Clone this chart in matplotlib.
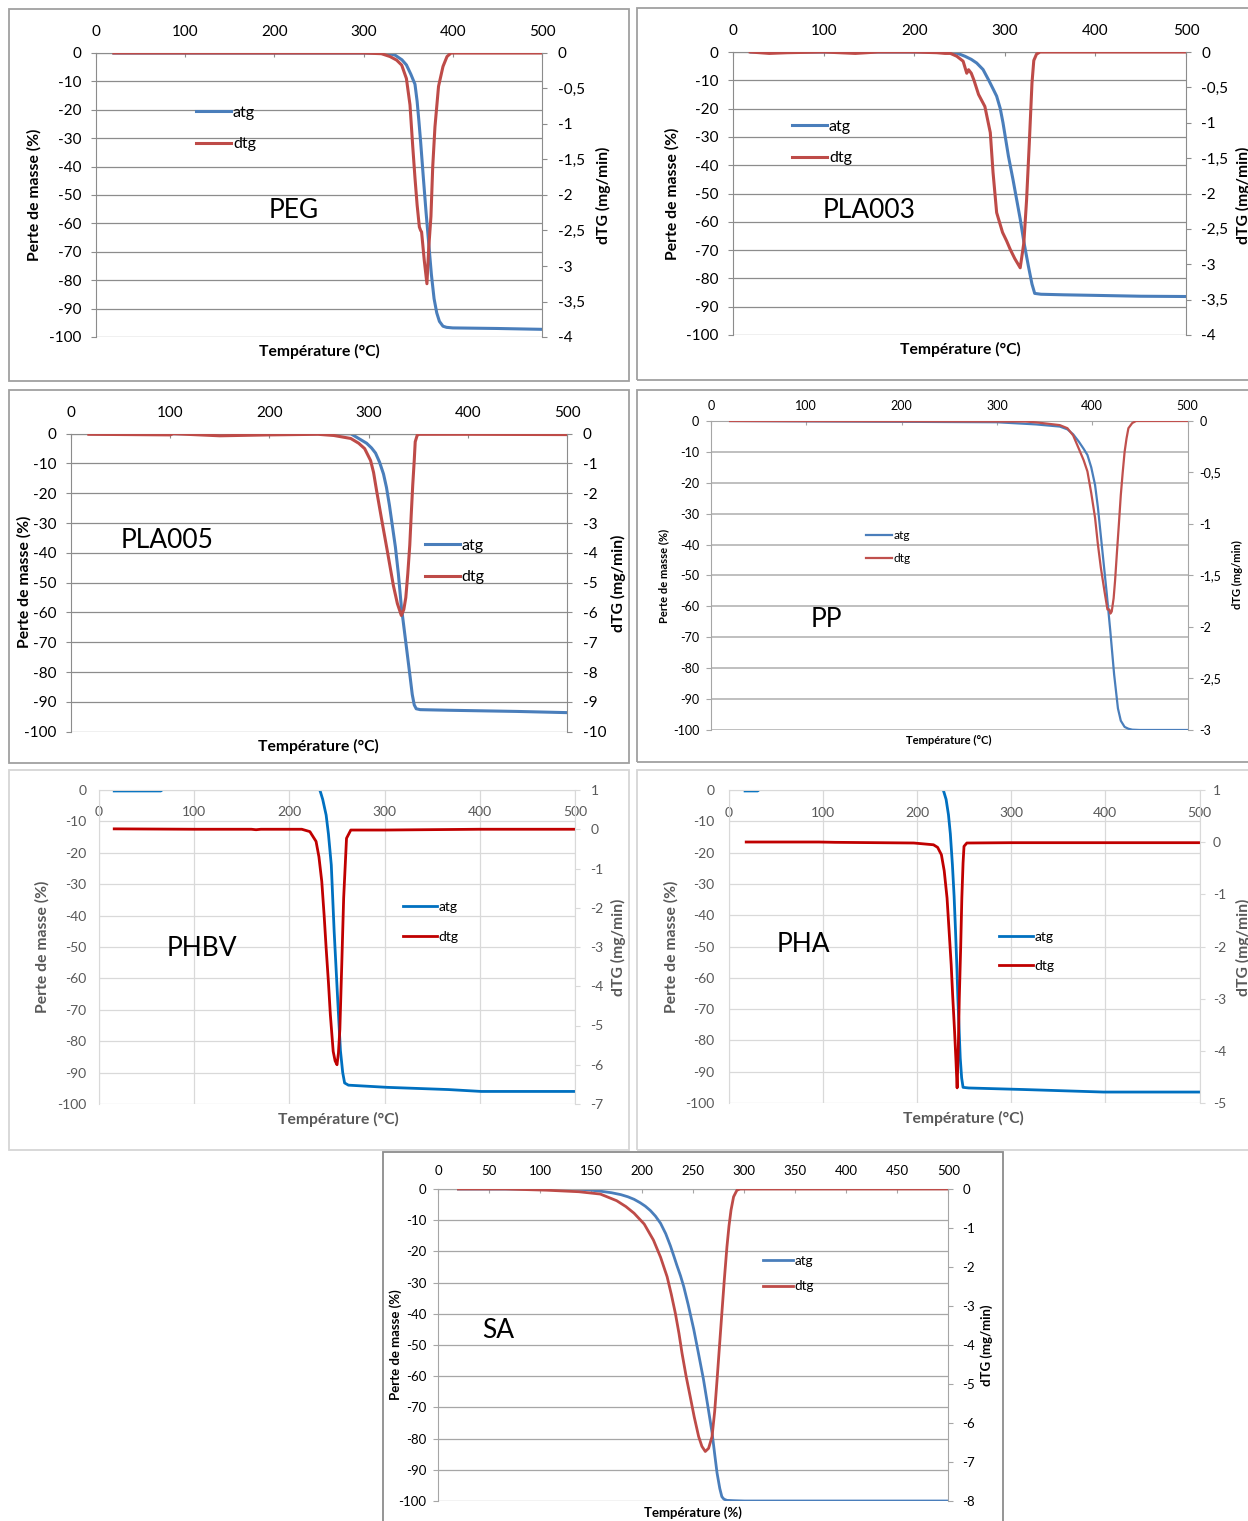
import matplotlib
matplotlib.use("Agg")
import matplotlib.pyplot as plt
from matplotlib.patches import Rectangle
from matplotlib.ticker import FuncFormatter, MultipleLocator

# ---- data (temperature in °C, atg in %, dtg in mg/min) ----
peg_ta = [20, 325, 335, 343, 348, 353, 357.6, 360, 362, 364, 367, 370, 373, 376, 379, 382, 385, 389, 393, 400, 450, 500]
peg_atg = [0, 0, -0.7, -2.4, -4.2, -7.5, -11, -17, -24, -31.5, -44, -56, -67, -78, -86.5, -91.5, -94.5, -96.2, -96.6, -96.8, -97.0, -97.3]
peg_td = [20, 300, 320, 329.6, 337, 342.7, 348, 352, 355, 357.6, 360, 362.5, 364, 365, 368, 371, 373, 375.5, 377.5, 380, 384, 389, 393.5, 398, 500]
peg_dtg = [0, 0, -0.01, -0.05, -0.1, -0.17, -0.36, -0.73, -1.3, -1.76, -2.14, -2.45, -2.5, -2.52, -2.92, -3.25, -2.75, -2.3, -1.6, -1.04, -0.47, -0.19, -0.05, 0, 0]

pla3_ta = [20, 239, 248, 256, 263, 269, 276, 282, 287, 291, 295, 298, 304, 309, 313, 317, 321, 326, 330, 333, 340, 365, 400, 450, 500]
pla3_atg = [0, 0, -0.5, -1.5, -2.6, -3.9, -6.2, -9.8, -13, -15.6, -20, -25, -36.8, -45, -52, -59, -67, -75.6, -82, -85.3, -85.6, -85.8, -86.0, -86.3, -86.4]
pla3_td = [19, 40, 60, 100, 135, 160, 200, 225, 234, 240, 247, 254, 258, 260, 263, 266, 271, 278, 284, 287, 291, 297.5, 302, 306, 311, 317, 321, 324, 327, 330, 332, 335, 339, 400, 500]
pla3_dtg = [0, -0.02, -0.01, 0, -0.02, 0, 0, -0.01, -0.02, -0.02, -0.06, -0.13, -0.3, -0.25, -0.3, -0.4, -0.6, -0.77, -1.14, -1.7, -2.27, -2.55, -2.67, -2.79, -2.92, -3.05, -2.7, -2.1, -1.3, -0.44, -0.12, -0.03, 0, 0, 0]

pla5_ta = [20, 282, 290, 298, 303, 307, 311, 315, 318, 321, 324, 327, 330, 333, 336, 339, 342, 344, 346, 348, 352, 380, 450, 500]
pla5_atg = [0, 0, -1.6, -3.2, -4.8, -6.5, -9.5, -13.5, -18, -24, -31, -38, -47, -58, -66, -74, -82, -87.5, -91, -92.3, -92.6, -92.8, -93.2, -93.6]
pla5_td = [18, 60, 100, 103, 150, 200, 249, 265, 282, 290, 296, 302, 305, 308, 313, 319, 325, 329, 333, 335.5, 337.5, 339.5, 341.5, 343, 344.5, 346, 347, 349, 351, 400, 500]
pla5_dtg = [-0.02, -0.03, -0.04, 0, -0.07, -0.04, -0.02, -0.06, -0.16, -0.32, -0.5, -0.9, -1.3, -1.9, -2.85, -3.96, -5.1, -5.7, -6.1, -5.9, -5.5, -4.7, -3.74, -2.7, -1.72, -0.9, -0.27, -0.05, -0.02, -0.02, -0.03]

pp_ta = [20, 300, 341, 366, 374, 380, 386, 391, 395, 399, 403, 406, 409, 412, 415, 419, 423, 427, 430, 434, 438, 442, 450, 500]
pp_atg = [0, -0.4, -1.1, -1.8, -2.7, -4.3, -6.7, -9, -11, -15, -20.7, -28, -37, -46, -55, -68, -82, -93, -97, -99, -99.6, -99.9, -100, -100]
pp_td = [20, 330, 341, 366, 374, 380, 386, 391, 395, 399, 403, 406, 409, 413, 416, 418, 419, 420.5, 422.5, 424, 426, 428, 430, 432, 434, 436, 438, 442, 446, 500]
pp_dtg = [0, -0.005, -0.013, -0.04, -0.07, -0.14, -0.27, -0.38, -0.49, -0.7, -0.94, -1.2, -1.42, -1.66, -1.83, -1.83, -1.87, -1.85, -1.72, -1.55, -1.27, -1.0, -0.72, -0.5, -0.3, -0.17, -0.07, -0.02, 0, 0]

phbv_ta = [16, 65, 68, 225, 232, 235, 238.6, 241, 244, 247, 250.6, 253.6, 256, 258, 262, 303, 367, 401.5, 500]
phbv_atg = [-0.3, -0.3, 0.5, 0.5, 0, -3, -8, -14, -23.9, -45, -66, -83, -90, -93.3, -94, -94.7, -95.4, -96, -96]
phbv_td = [16, 100, 160, 165, 170, 213, 221.5, 228, 231, 234, 236.5, 238.6, 241, 243, 246, 248, 250, 251.5, 253, 255, 257, 260, 264.5, 300, 400, 500]
phbv_dtg = [0.01, 0, 0, -0.012, 0, 0, -0.06, -0.31, -0.7, -1.33, -2.2, -3.03, -3.9, -4.72, -5.66, -5.9, -6.0, -5.7, -5.1, -3.45, -1.75, -0.23, -0.02, -0.02, 0, 0]

pha_ta = [17.6, 31, 34, 222, 228, 231, 233.5, 235.5, 237.7, 239.5, 241, 242.5, 243.5, 245, 246, 247.5, 249, 255, 314, 398, 500]
pha_atg = [-0.3, -0.3, 0.5, 0.5, 0, -3, -7.9, -14, -23.9, -34, -45, -57, -66.5, -78, -85.6, -92, -95, -95.2, -95.7, -96.5, -96.5]
pha_td = [18.8, 96, 113, 196.7, 217.6, 222, 226, 229, 232, 234, 236.4, 238, 240, 241.5, 242.7, 244, 245, 246.5, 247.7, 249, 250, 253, 300, 500]
pha_dtg = [0.003, 0.003, -0.003, -0.016, -0.05, -0.1, -0.24, -0.55, -1.07, -1.65, -2.35, -2.95, -3.63, -4.2, -4.71, -3.9, -2.99, -2.0, -1.07, -0.4, -0.08, -0.016, -0.01, -0.01]

sa_ta = [20, 130, 145, 159, 170, 179, 186, 192, 198, 203, 208, 213, 218, 223, 227.6, 231, 234, 237.5, 240.7, 245, 250.5, 255, 260, 264, 268.4, 271, 273.3, 276, 278, 280, 283, 290, 300, 500]
sa_atg = [0, 0, -0.2, -0.7, -1.2, -1.8, -2.5, -3.3, -4.4, -5.5, -6.9, -8.7, -11, -14.3, -18.2, -21.5, -24.5, -27.8, -31.3, -37, -45, -52.5, -61, -69, -78, -85, -91, -96, -98.6, -99.4, -99.8, -99.9, -100, -100]
sa_td = [20, 66, 106, 138, 159, 175, 184, 192, 202, 211, 218, 224.4, 228.5, 232.5, 236, 239, 243, 247, 251, 255.3, 258.5, 261.8, 265, 268.4, 271, 273.3, 275.5, 278, 280.5, 283, 285, 287, 289.5, 292.8, 296, 500]
sa_dtg = [0, 0, -0.03, -0.07, -0.13, -0.3, -0.45, -0.62, -0.9, -1.31, -1.75, -2.25, -2.7, -3.19, -3.7, -4.21, -4.8, -5.32, -5.85, -6.35, -6.6, -6.73, -6.65, -6.35, -5.7, -4.9, -4.1, -3.19, -2.3, -1.48, -0.95, -0.54, -0.2, -0.03, 0, 0]

W, H = 1248, 1521
plt.rcParams['font.family'] = ['Lato', 'DejaVu Sans']
plt.rcParams['axes.unicode_minus'] = False

fig = plt.figure(figsize=(W / 100, H / 100), dpi=100)


def fx(x):
    return x / W


def fy(y):
    return 1 - y / H


def frame(l, t, r, b, color):
    fig.add_artist(Rectangle((fx(l), fy(b)), (r - l) / W, (b - t) / H,
                             transform=fig.transFigure, fill=False,
                             edgecolor=color, lw=1.3))


comma = FuncFormatter(lambda v, p: ('%g' % v).replace('.', ','))

base = dict(fs=11, lfs=11.5, afs=11.3, lw=2.2, blue='#4a7ebb', red='#be4b48',
            grid='#8c8c8c', glw=0.9, spine='#8c8c8c', txt='black',
            xstep=100, xtl=3, xpad=10.4, ytl=3.5, ypad=7, rpad=8,
            vgrid=False, hl=35, row=31, xlab='Température (°C)')


def panel(box, ta, atg, td, dtg, rlim, rstep, name, name_xy, leg_xy,
          xlab_xy, ylab_xy, rlab_xy, **kw):
    st = dict(base, **kw)
    l, t, r, b = box
    ax = fig.add_axes([fx(l), fy(b), (r - l) / W, (b - t) / H])
    ax.set_xlim(0, 500)
    ax.set_ylim(-100, 0)
    ax.set_yticks(range(-100, 1, 10))
    ax.xaxis.set_major_locator(MultipleLocator(st['xstep']))
    ax.grid(axis='y', color=st['grid'], lw=st['glw'])
    if st['vgrid']:
        ax.grid(axis='x', color=st['grid'], lw=st['glw'])
    ax.set_axisbelow(True)
    ax.patch.set_alpha(0)
    ax.spines['bottom'].set_visible(False)
    ax.spines['right'].set_visible(False)
    ax.spines['top'].set_color(st['spine'])
    ax.spines['left'].set_color(st['spine'])
    ax.xaxis.tick_top()
    ax.tick_params(axis='x', length=st['xtl'], direction='in', pad=st['xpad'],
                   labelsize=st['fs'], labelcolor=st['txt'], color=st['spine'])
    la, = ax.plot(ta, atg, color=st['blue'], lw=st['lw'])

    ax2 = ax.twinx()
    ax2.set_ylim(*rlim)
    ax2.yaxis.set_major_locator(MultipleLocator(rstep))
    ax2.yaxis.set_major_formatter(comma)
    for s in ('top', 'bottom', 'left'):
        ax2.spines[s].set_visible(False)
    ax2.spines['right'].set_color(st['spine'])
    ax.tick_params(axis='y', length=st['ytl'], pad=st['ypad'],
                   labelsize=st['fs'], labelcolor=st['txt'], color=st['spine'])
    ax2.tick_params(axis='y', length=3.5, pad=st['rpad'],
                    labelsize=st['fs'], labelcolor=st['txt'], color=st['spine'])
    ld, = ax2.plot(td, dtg, color=st['red'], lw=st['lw'])

    fpx = st['lfs'] * 100 / 72
    ax2.legend([la, ld], ['atg', 'dtg'], loc='center left',
               bbox_to_anchor=(fx(leg_xy[0]), fy(leg_xy[1])),
               bbox_transform=fig.transFigure, frameon=False,
               fontsize=st['lfs'], handlelength=st['hl'] / fpx,
               handletextpad=0.12, borderpad=0, borderaxespad=0,
               labelspacing=(st['row'] - 0.875 * fpx) / fpx)

    fig.text(fx(name_xy[0]), fy(name_xy[1]), name, fontsize=19,
             ha='center', va='center')
    fig.text(fx(xlab_xy[0]), fy(xlab_xy[1]), st['xlab'], fontsize=st['afs'],
             fontweight='bold', ha='center', va='center', color=st['txt'])
    fig.text(fx(ylab_xy[0]), fy(ylab_xy[1]), 'Perte de masse (%)',
             fontsize=st['afs'], fontweight='bold', rotation=90,
             ha='center', va='center', color=st['txt'])
    fig.text(fx(rlab_xy[0]), fy(rlab_xy[1]), 'dTG (mg/min)',
             fontsize=st['afs'], fontweight='bold', rotation=90,
             ha='center', va='center', color=st['txt'])


# frames around the seven sub-figures
frame(9, 9, 629, 381, '#a0a0a0')
frame(637, 8, 1262, 380, '#a0a0a0')
frame(9, 390, 629, 763, '#a0a0a0')
frame(637, 390, 1262, 762, '#a0a0a0')
frame(9, 770, 629, 1150, '#d6d6d6')
frame(637, 770, 1262, 1150, '#d6d6d6')
frame(383, 1152, 1003, 1530, '#8c8c8c')

panel((96, 53, 542, 337), peg_ta, peg_atg, peg_td, peg_dtg, (-4, 0), 0.5,
      'PEG', (294, 210), (196, 128.5), (319, 351), (34, 195), (603, 195))

panel((733, 52, 1186, 335), pla3_ta, pla3_atg, pla3_td, pla3_dtg, (-4, 0), 0.5,
      'PLA003', (869, 210), (792, 142.5), (960, 349), (672, 194), (1243, 195),
      xpad=10.2, rpad=7.5)

panel((71, 433.7, 567, 731.7), pla5_ta, pla5_atg, pla5_td, pla5_dtg, (-10, 0), 1,
      'PLA005', (167, 540), (424.5, 561.5), (318, 746), (24, 582), (618, 583),
      xpad=10.2, row=31.6, hl=35)

panel((711, 421, 1187.5, 730), pp_ta, pp_atg, pp_td, pp_dtg, (-3, 0), 0.5,
      'PP', (826, 620), (866, 547), (949, 740), (663.5, 576), (1237, 575),
      fs=9, lfs=8.6, afs=8, lw=1.6, red='#c0504d', grid='#b4b4b4', glw=1.2,
      spine='#a6a6a6', xpad=6.5, ypad=5, rpad=5, hl=26, row=22.3)

panel((99, 790, 575, 1104), phbv_ta, phbv_atg, phbv_td, phbv_dtg, (-7, 1), 1,
      'PHBV', (202, 949), (403, 922), (338, 1119), (42, 947), (618, 947),
      fs=10, lfs=10, blue='#0070c0', red='#c00000', grid='#d9d9d9',
      spine='#d9d9d9', txt='#595959', lw=2.0, xtl=0, xpad=-20, ytl=0,
      ypad=9, rpad=7.7, vgrid=True, row=30.6, hl=34)

panel((728.5, 790, 1199.5, 1103), pha_ta, pha_atg, pha_td, pha_dtg, (-5, 1), 1,
      'PHA', (803, 944), (998.5, 951.5), (963, 1118), (671, 947), (1243, 947),
      fs=10, lfs=10, blue='#0070c0', red='#c00000', grid='#d9d9d9',
      spine='#d9d9d9', txt='#595959', lw=2.0, xtl=0, xpad=-20.7, ytl=0,
      ypad=10, rpad=6, vgrid=True, row=28.7, hl=34)

panel((438, 1189, 948.5, 1501), sa_ta, sa_atg, sa_td, sa_dtg, (-8, 0), 1,
      'SA', (498, 1330), (763, 1273.5), (693, 1512.7), (396, 1345), (987, 1345),
      fs=9.5, lfs=9.7, afs=9.5, lw=2.0, grid='#a6a6a6', spine='#a6a6a6',
      xstep=50, xpad=8.3, ypad=5, rpad=6.5, hl=30, row=25.6,
      xlab='Température (%)')

fig.savefig('out.png', dpi=100)
